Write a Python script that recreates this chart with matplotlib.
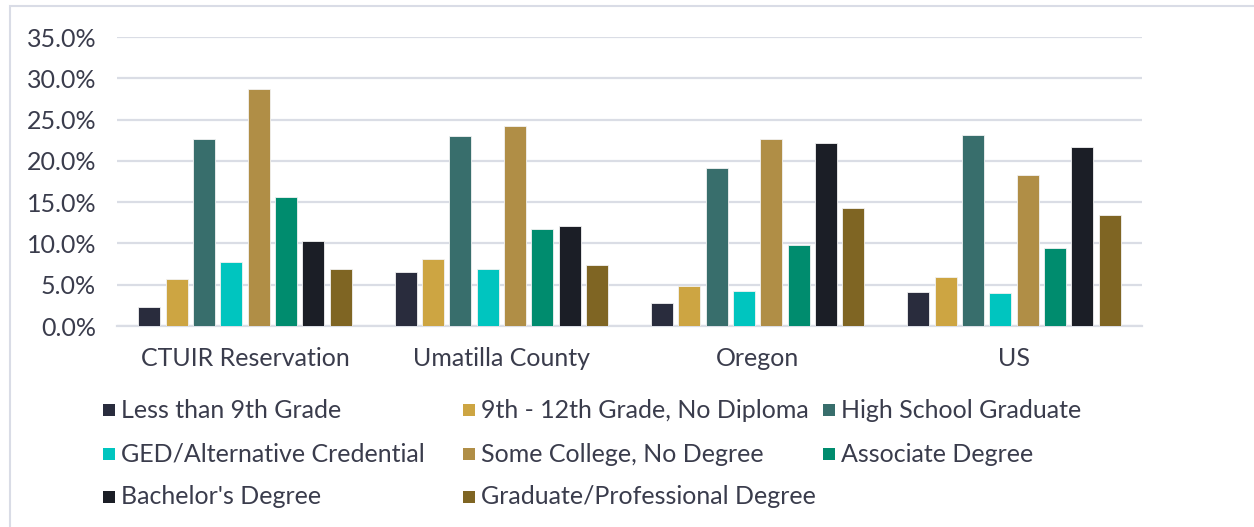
import matplotlib
matplotlib.use("Agg")
import matplotlib.pyplot as plt
from matplotlib.patches import Rectangle
import numpy as np

plt.rcParams['font.family'] = ['Lato', 'DejaVu Sans']

categories = ["CTUIR Reservation", "Umatilla County", "Oregon", "US"]
series_names = [
    "Less than 9th Grade",
    "9th - 12th Grade, No Diploma",
    "High School Graduate",
    "GED/Alternative Credential",
    "Some College, No Degree",
    "Associate Degree",
    "Bachelor's Degree",
    "Graduate/Professional Degree",
]
less_9th = [2.3, 6.5, 2.8, 4.1]
grade_9_12 = [5.7, 8.1, 4.8, 5.9]
hs_grad = [22.6, 23.0, 19.1, 23.1]
ged = [7.8, 6.9, 4.2, 4.0]
some_college = [28.7, 24.2, 22.7, 18.3]
associate = [15.6, 11.8, 9.8, 9.4]
bachelor = [10.3, 12.1, 22.2, 21.7]
graduate = [6.9, 7.4, 14.3, 13.4]
series_values = [less_9th, grade_9_12, hs_grad, ged, some_college, associate, bachelor, graduate]
colors = ["#292C3D", "#CDA542", "#386E6C", "#00C5BF", "#B08E46", "#008C6E", "#1B1E26", "#7F6523"]
yticks = [0, 5, 10, 15, 20, 25, 30, 35]

W, H = 1254, 527
fig = plt.figure(figsize=(W / 100, H / 100), dpi=100)
fig.patch.set_facecolor("white")

FS = 18
TXT = "#3A3C4C"

# outer light border
fig.patches.append(Rectangle((10 / W, -0.05), 1.2, 1 - 6 / H + 0.05, transform=fig.transFigure,
                             fill=False, edgecolor="#D9DCE6", linewidth=1.5))

ax = fig.add_axes([117 / W, 1 - 326 / H, (1142 - 117) / W, (326 - 37) / H])
x = np.arange(len(categories))
step = 0.1067
bw = 0.086
for i, (vals, c) in enumerate(zip(series_values, colors)):
    ax.bar(x + (i - 3.5) * step, vals, width=bw, color=c, edgecolor="#F2F2F2", linewidth=0.6, zorder=3)

ax.set_xlim(-0.5, 3.5)
ax.set_ylim(0, 35)
ax.set_yticks(yticks)
ax.set_yticklabels([f"{v:.1f}%" for v in yticks])
ax.yaxis.grid(True, color="#DADDE5", linewidth=1.6, zorder=0)
ax.set_axisbelow(True)
for s in ["top", "right", "left"]:
    ax.spines[s].set_visible(False)
ax.spines["bottom"].set_color("#DADDE5")
ax.spines["bottom"].set_linewidth(1.6)
ax.tick_params(axis="both", length=0, labelsize=FS, colors=TXT)
ax.tick_params(axis="y", pad=15)
ax.tick_params(axis="x", pad=15)
ax.set_xticks(x)
ax.set_xticklabels(categories)

# legend, row-major 3 columns
col_x = [103, 463, 823]
row_y = [410, 454, 497]
for i, (name, c) in enumerate(zip(series_names, colors)):
    r, cc = divmod(i, 3)
    px, py = col_x[cc], row_y[r]
    fig.patches.append(Rectangle((px / W, 1 - (py + 6) / H), 12 / W, 12 / H,
                                 transform=fig.transFigure, facecolor=c, edgecolor="none"))
    fig.text((px + 18) / W, 1 - py / H, name, fontsize=FS, color=TXT,
             va="center", ha="left")

fig.savefig("out.png", dpi=100)
